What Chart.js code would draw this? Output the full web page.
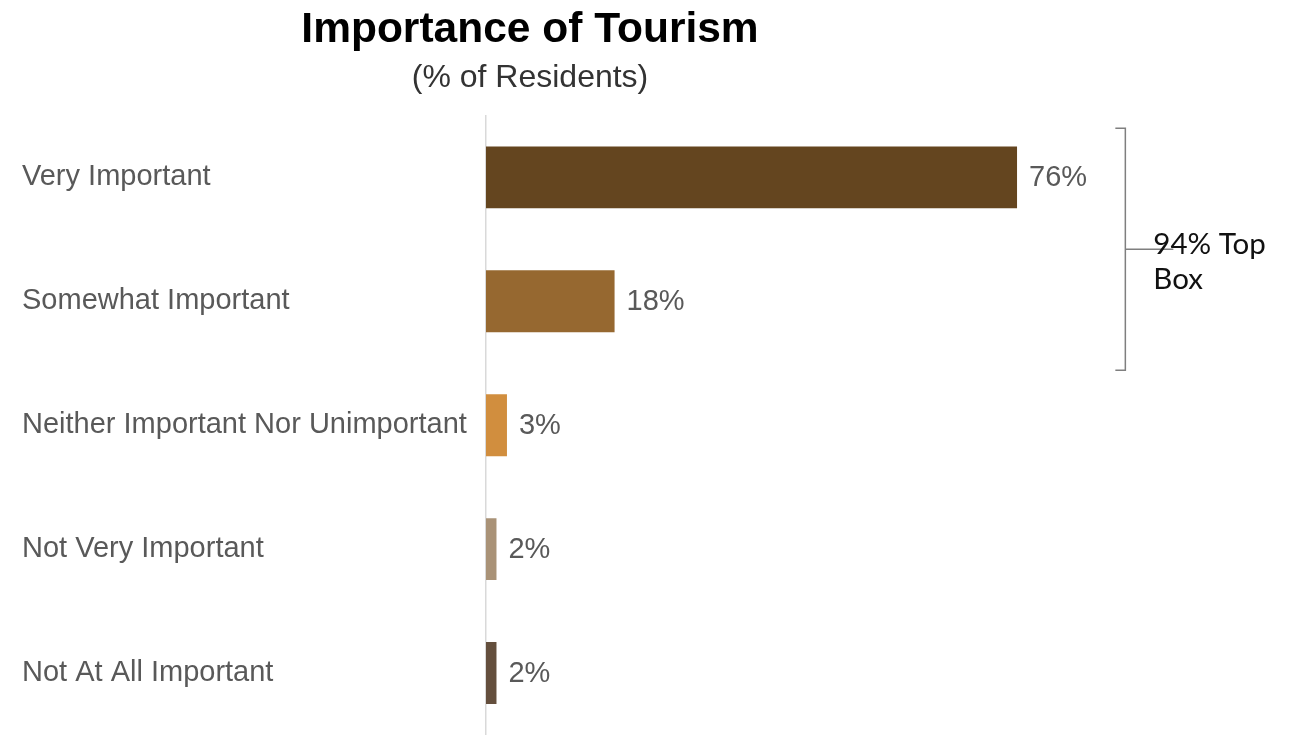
<!DOCTYPE html>
<html>
<head>
<meta charset="utf-8">
<script src="https://cdn.jsdelivr.net/npm/chart.js@4.4.1/dist/chart.umd.min.js"></script>
<style>
  body { margin: 0; background: #fff; }
  #wrap { width: 1291px; height: 735px; }
</style>
</head>
<body>
<div id="wrap"><canvas id="chart" width="1291" height="735"></canvas></div>
<script>
// data
const categories = ['Very Important', 'Somewhat Important', 'Neither Important Nor Unimportant', 'Not Very Important', 'Not At All Important'];
const barValues = [76, 18.4, 3, 1.5, 1.5];       // bar lengths as drawn
const valueLabels = ['76%', '18%', '3%', '2%', '2%'];
const barColors = ['#64451f', '#966830', '#d18e3e', '#a99277', '#644f3d'];
const topBoxPct = 94;

const font = "'Liberation Sans', Arial, sans-serif";

// value labels at the end of each bar
const valueLabelPlugin = {
  id: 'valueLabels',
  afterDatasetsDraw(chart) {
    const ctx = chart.ctx;
    const meta = chart.getDatasetMeta(0);
    ctx.save();
    ctx.font = `29px ${font}`;
    ctx.fillStyle = '#595959';
    ctx.textAlign = 'left';
    ctx.textBaseline = 'middle';
    meta.data.forEach((bar, i) => {
      ctx.fillText(valueLabels[i], bar.x + 12, bar.y + 1);
    });
    ctx.restore();
  }
};

// bracket round the first two rows with "Top Box" note
const bracketPlugin = {
  id: 'topBracket',
  afterDraw(chart) {
    const ctx = chart.ctx;
    const xs = chart.scales.x, ys = chart.scales.y;
    const x = xs.getPixelForValue(91.5);
    const top = ys.getPixelForValue(0) - 49;
    const bottom = ys.getPixelForValue(1) + 69;
    const mid = (top + bottom) / 2;
    ctx.save();
    ctx.strokeStyle = '#7f7f7f';
    ctx.lineWidth = 1.5;
    ctx.beginPath();
    ctx.moveTo(x - 10, top);
    ctx.lineTo(x, top);
    ctx.lineTo(x, bottom);
    ctx.lineTo(x - 10, bottom);
    ctx.moveTo(x, mid);
    ctx.lineTo(x + 48, mid);
    ctx.stroke();
    ctx.font = "29.5px Lato, 'Noto Sans', sans-serif";
    ctx.fillStyle = '#111';
    ctx.textAlign = 'left';
    ctx.textBaseline = 'alphabetic';
    ctx.fillText(`${topBoxPct}% Top`, x + 28, mid + 5);
    ctx.fillText('Box', x + 28, mid + 40);
    ctx.restore();
  }
};

new Chart(document.getElementById('chart'), {
  type: 'bar',
  data: {
    labels: categories,
    datasets: [{
      data: barValues,
      backgroundColor: barColors,
      borderWidth: 0,
      barPercentage: 0.5,
      categoryPercentage: 1
    }]
  },
  options: {
    indexAxis: 'y',
    responsive: false,
    animation: false,
    layout: { padding: { left: 22, right: 253, top: 0, bottom: 0 } },
    scales: {
      x: { display: false, min: 0, max: 79 },
      y: {
        grid: { display: false },
        border: { display: true, color: '#d9d9d9', width: 1.5 },
        ticks: { crossAlign: 'far', color: '#595959', font: { family: font, size: 29 } },
        afterFit(scale) {
          scale.width = 464;
          scale.paddingTop = 0;
          scale.paddingBottom = 0;
        }
      }
    },
    plugins: {
      legend: { display: false },
      tooltip: { enabled: false },
      title: {
        display: true,
        text: 'Importance of Tourism',
        color: '#000',
        font: { family: font, size: 42.5, weight: 'bold' },
        padding: { top: 5, bottom: 0 }
      },
      subtitle: {
        display: true,
        text: '(% of Residents)',
        color: '#333',
        font: { family: font, size: 32 },
        padding: { top: 3, bottom: 18 }
      }
    }
  },
  plugins: [valueLabelPlugin, bracketPlugin]
});
</script>
</body>
</html>
